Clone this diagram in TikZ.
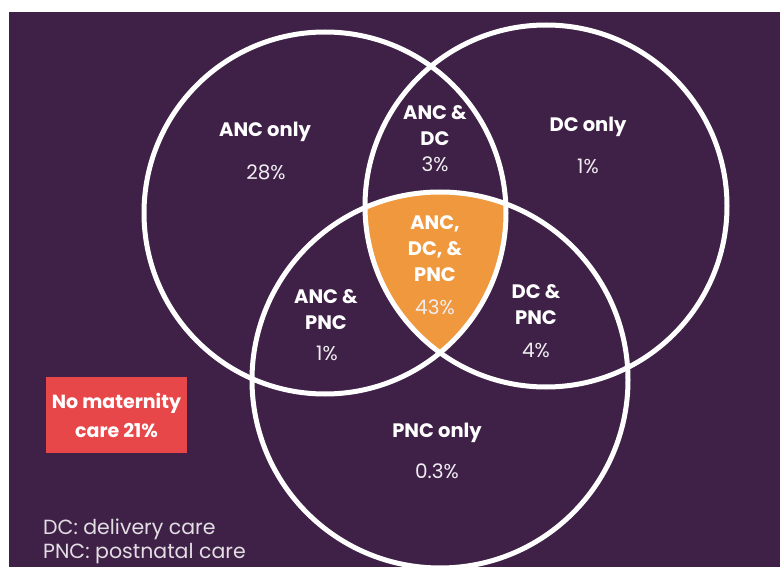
\documentclass[tikz,border=0pt]{standalone}
\usepackage{fontspec}
\setmainfont{Poppins}
\definecolor{bgpurple}{HTML}{3F2148}
\definecolor{corefill}{HTML}{F0983E}
\definecolor{nonefill}{HTML}{E8474A}
\tikzset{
  ring/.style={draw=white, line width=5pt},
  grp/.style={text=white, align=center, inner sep=0pt,
    font=\fontsize{19.5}{26}\selectfont\bfseries},
  pct/.style={text=white!92!bgpurple, inner sep=0pt,
    font=\fontsize{20}{22}\selectfont},
  legend/.style={text=white!85!bgpurple, anchor=west, inner sep=0pt,
    font=\fontsize{20.5}{22}\selectfont},
}
\begin{document}
\begin{tikzpicture}[x=1pt,y=-1pt]
  \useasboundingbox (0,0) rectangle (780,567);
  % background
  \fill[bgpurple] (9,12) rectangle (780,567);
  \clip (9,12) rectangle (780,567);

  % centre of the three circles
  \begin{scope}
    \clip (325,213) circle (181);
    \clip (546,206) circle (181);
    \fill[corefill] (440,380) circle (188);
  \end{scope}

  % circles ANC, DC, PNC
  \draw[ring] (325,213) circle (181);
  \draw[ring] (546,206) circle (181);
  \draw[ring] (440,380) circle (188);

  % ANC only
  \node[grp] (ancname) at (265,132) {ANC only};
  \node[pct] (ancpct) at (266,172) {28\%};

  % ANC & DC
  \node[grp] (ancdc) at (435,126) {ANC \&\\DC};
  \node[pct] (ancdcpct) at (435,164) {3\%};

  % DC only
  \node[grp] (dcname) at (588,127) {DC only};
  \node[pct] (dcpct) at (588,166) {1\%};

  % all three
  \node[grp] (core) at (435,249) {ANC,\\DC, \&\\PNC};
  \node[pct] (corepct) at (435,307) {43\%};

  % ANC & PNC
  \node[grp] (ancpnc) at (326,310) {ANC \&\\PNC};
  \node[pct] (ancpncpct) at (327,353) {1\%};

  % DC & PNC
  \node[grp] (dcpnc) at (536,305) {DC \&\\PNC};
  \node[pct] (dcpncpct) at (536,350) {4\%};

  % PNC only
  \node[grp] (pncname) at (437,433) {PNC only};
  \node[pct] (pncpct) at (437,471) {0.3\%};

  % no care at all
  \node[grp, font=\fontsize{19}{29}\selectfont\bfseries, fill=nonefill,
    minimum width=141pt, minimum height=76pt]
    (nocare) at (116.5,415) {No maternity\\care 21\%};

  % legend
  \node[legend] (legdc) at (43,529) {DC: delivery care};
  \node[legend] (legpnc) at (43,554) {PNC: postnatal care};
\end{tikzpicture}
\end{document}
